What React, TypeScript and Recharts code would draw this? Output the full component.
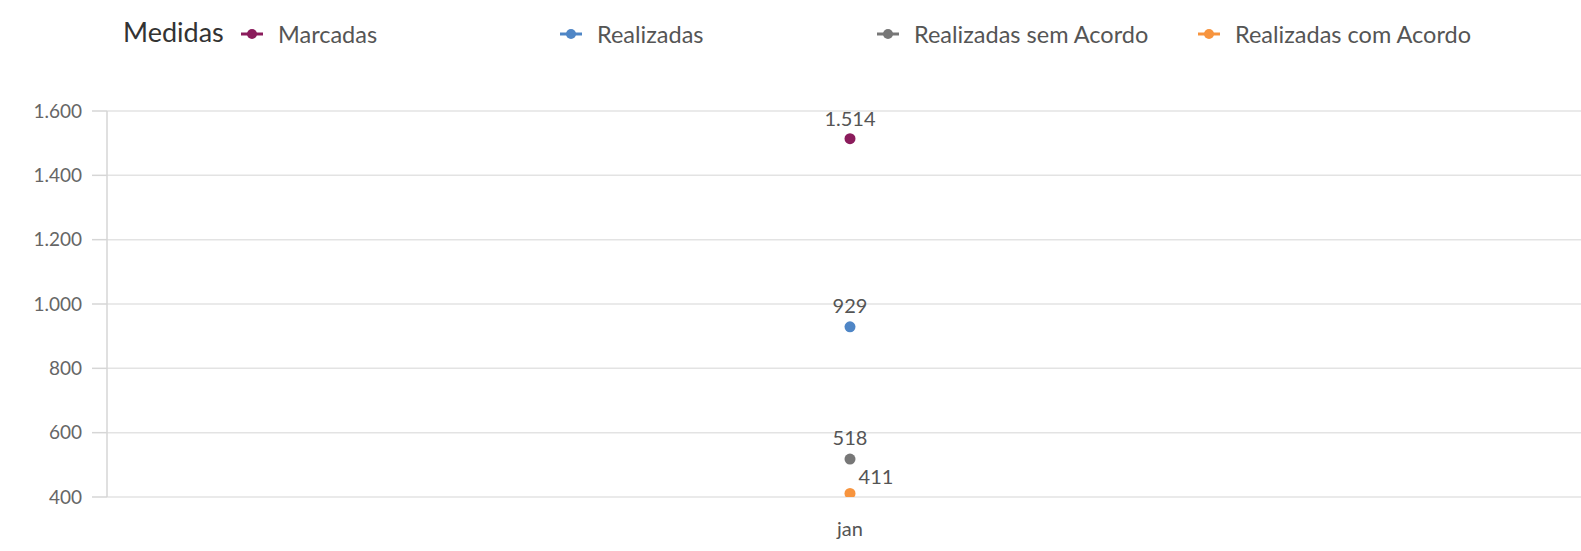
import { LineChart, Line, XAxis, YAxis, CartesianGrid, LabelList } from "recharts";

const months = ["jan"];
const marcadas = [1514];
const realizadas = [929];
const semAcordo = [518];
const comAcordo = [411];
const yTicks = [400, 600, 800, 1000, 1200, 1400, 1600];

const FONT = "Lato, 'Open Sans', sans-serif";

const series = [
  { key: "marcadas", name: "Marcadas", color: "#8b1c5c", dx: 0, dy: -21, legendX: 240 },
  { key: "realizadas", name: "Realizadas", color: "#4f86c6", dx: 0, dy: -22, legendX: 559 },
  { key: "semAcordo", name: "Realizadas sem Acordo", color: "#777777", dx: 0, dy: -22, legendX: 876 },
  { key: "comAcordo", name: "Realizadas com Acordo", color: "#f7943e", dx: 26, dy: -17, legendX: 1197 },
];

const data = months.map((m, i) => ({
  month: m,
  marcadas: marcadas[i],
  realizadas: realizadas[i],
  semAcordo: semAcordo[i],
  comAcordo: comAcordo[i],
}));

const fmt = (v: number) => String(v).replace(/\B(?=(\d{3})+(?!\d))/g, ".");

function makeLabel(dx: number, dy: number) {
  return (props: any) => {
    const { x, y, value } = props;
    return (
      <text
        x={x + dx}
        y={y + dy}
        textAnchor="middle"
        dominantBaseline="central"
        fill="#555"
        fontSize={20}
        fontFamily={FONT}
      >
        {fmt(value)}
      </text>
    );
  };
}

function LegendBar() {
  return (
    <div style={{ position: "absolute", left: 0, top: 0, width: 1581, height: 70, fontFamily: FONT }}>
      <div style={{ position: "absolute", left: 123, top: 15, fontSize: 27, color: "#333" }}>Medidas</div>
      {series.map((s) => (
        <div
          key={s.key}
          style={{ position: "absolute", left: s.legendX, top: 20, display: "flex", alignItems: "center", color: "#555", fontSize: 23.5 }}
        >
          <svg width={24} height={14} style={{ marginRight: 14 }}>
            <line x1={1} y1={7} x2={23} y2={7} stroke={s.color} strokeWidth={3} />
            <circle cx={12} cy={7} r={5} fill={s.color} />
          </svg>
          <span>{s.name}</span>
        </div>
      ))}
    </div>
  );
}

export default function App() {
  return (
    <div style={{ position: "absolute", left: 0, top: 0, width: 1581, height: 551, overflow: "hidden", background: "#fff" }}>
      <LegendBar />
      <LineChart
        width={1600}
        height={551}
        data={data}
        margin={{ top: 111, right: 7, left: 0, bottom: 14 }}
        style={{ position: "absolute", left: 0, top: 0 }}
      >
        <CartesianGrid vertical={false} stroke="#e3e3e3" strokeWidth={1.5} />
        <XAxis
          dataKey="month"
          axisLine={false}
          tickLine={false}
          height={40}
          tickMargin={19}
          tick={{ fill: "#555", fontSize: 20, fontFamily: FONT }}
        />
        <YAxis
          width={107}
          domain={[400, 1600]}
          ticks={yTicks}
          allowDataOverflow
          tickFormatter={fmt}
          axisLine={{ stroke: "#d6d6d6", strokeWidth: 1.5 }}
          tickLine={{ stroke: "#d6d6d6", strokeWidth: 1.5 }}
          tickSize={15}
          tickMargin={10}
          tick={{ fill: "#666", fontSize: 19, fontFamily: FONT }}
        />
        {series.map((s) => (
          <Line
            key={s.key}
            dataKey={s.key}
            name={s.name}
            stroke={s.color}
            strokeWidth={2}
            dot={{ r: 5.5, fill: s.color, stroke: s.color, strokeWidth: 0 }}
            isAnimationActive={false}
          >
            <LabelList dataKey={s.key} content={makeLabel(s.dx, s.dy)} />
          </Line>
        ))}
      </LineChart>
    </div>
  );
}
